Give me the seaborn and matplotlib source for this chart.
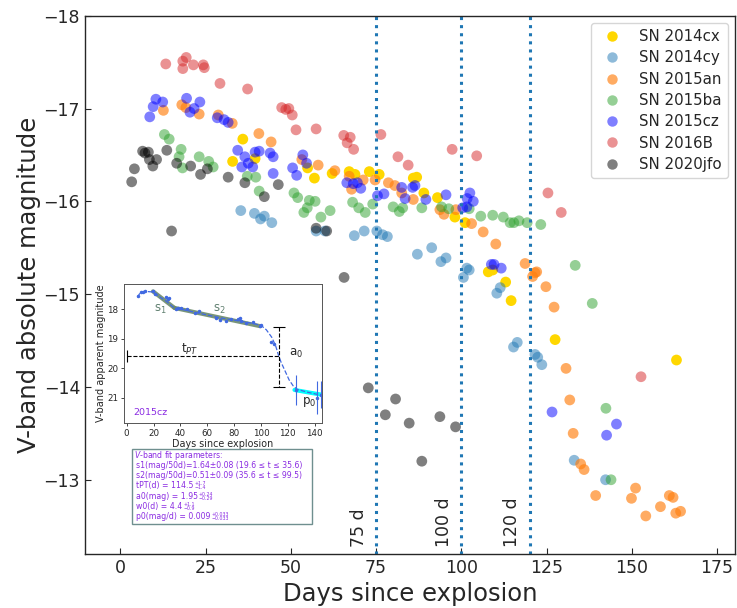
import numpy as np
import pandas as pd
import matplotlib
matplotlib.use('Agg')
import matplotlib.pyplot as plt
import seaborn as sns
from matplotlib.lines import Line2D
from matplotlib.patches import Rectangle

sns.set_style('ticks')
plt.rcParams['font.family'] = ['DejaVu Sans']

# --- light curves (days since explosion, V-band absolute magnitude) ---
sn2014cx_day = [32.9, 35.9, 39.5, 54.9, 56.9, 62.1, 67.1, 68.8, 73.0, 75.9, 85.9, 86.9, 89.0, 93.0,
                98.1, 101.1, 107.9, 109.2, 113.0, 114.6, 127.5, 163.1]
sn2014cx_mag = [-16.43, -16.67, -16.46, -16.36, -16.25, -16.30, -16.32, -16.29, -16.32, -16.29, -16.25,
                -16.26, -16.09, -16.04, -15.83, -15.77, -15.24, -15.26, -15.13, -14.93, -14.51, -14.29]

sn2014cy_day = [35.3, 39.3, 41.1, 42.2, 44.4, 57.4, 60.0, 68.6, 71.5, 75.2, 76.9, 78.3, 87.1, 91.3,
                94.0, 95.5, 100.6, 101.6, 102.3, 110.4, 111.4, 115.3, 116.4, 121.6, 122.4, 123.6, 133.1, 142.3]
sn2014cy_mag = [-15.90, -15.87, -15.81, -15.84, -15.77, -15.68, -15.68, -15.63, -15.68, -15.68, -15.64,
                -15.62, -15.43, -15.50, -15.35, -15.39, -15.18, -15.28, -15.26, -15.01, -15.07, -14.43,
                -14.48, -14.35, -14.32, -14.24, -13.21, -13.00]

sn2015an_day = [12.6, 18.0, 19.2, 23.1, 28.7, 32.8, 40.6, 44.2, 53.2, 58.0, 62.9, 67.1, 67.8, 71.2,
                74.7, 78.6, 80.5, 82.5, 85.9, 93.7, 94.9, 98.4, 103.0, 106.4, 110.1, 118.7, 120.9, 121.6,
                122.1, 124.8, 127.2, 130.7, 131.8, 132.8, 135.0, 136.0, 139.4, 149.9, 151.1, 154.1,
                158.4, 161.0, 162.1, 162.9, 164.3]
sn2015an_mag = [-16.98, -17.04, -17.01, -16.94, -16.93, -16.84, -16.73, -16.64, -16.45, -16.39, -16.33,
                -16.27, -16.13, -16.23, -16.23, -16.20, -16.17, -16.09, -16.02, -15.91, -15.86, -15.91,
                -15.76, -15.67, -15.54, -15.33, -15.19, -15.23, -15.24, -15.08, -14.86, -14.20, -13.86,
                -13.50, -13.17, -13.11, -12.83, -12.80, -12.91, -12.61, -12.71, -12.83, -12.81, -12.64,
                -12.66]

sn2015ba_day = [12.9, 14.3, 17.2, 17.8, 18.2, 23.1, 25.9, 27.2, 37.2, 39.7, 40.7, 50.9, 52.0, 53.8,
                54.8, 55.4, 57.1, 58.8, 61.5, 68.1, 69.9, 71.8, 74.0, 80.0, 81.8, 82.8, 88.4, 94.2,
                96.3, 102.3, 105.7, 109.2, 112.3, 114.3, 115.4, 116.9, 119.3, 123.3, 133.4, 138.4,
                142.4, 143.9]
sn2015ba_mag = [-16.72, -16.67, -16.48, -16.56, -16.36, -16.48, -16.43, -16.37, -16.27, -16.26, -16.11,
                -16.09, -16.04, -15.88, -15.93, -16.01, -16.00, -15.83, -15.90, -15.99, -15.93, -15.88,
                -15.97, -15.94, -15.89, -15.93, -15.93, -15.94, -15.92, -15.92, -15.84, -15.85, -15.83,
                -15.77, -15.77, -15.79, -15.77, -15.75, -15.31, -14.90, -13.77, -13.00]

sn2015cz_day = [8.6, 9.6, 10.4, 12.4, 19.4, 20.4, 21.6, 23.3, 28.4, 30.4, 31.6, 34.4, 35.6, 36.5,
                37.5, 38.8, 39.5, 40.7, 43.9, 44.8, 44.8, 50.5, 51.7, 53.5, 54.6, 66.4, 68.3, 69.5,
                70.5, 75.4, 77.3, 82.5, 83.5, 85.7, 86.4, 89.6, 95.5, 100.4, 101.6, 101.7, 102.5,
                103.5, 108.8, 109.6, 111.7, 126.6, 142.6, 145.5]
sn2015cz_mag = [-16.91, -17.02, -17.10, -17.07, -17.11, -16.96, -17.00, -17.07, -16.90, -16.88, -16.85,
                -16.55, -16.37, -16.48, -16.41, -16.37, -16.53, -16.54, -16.52, -16.48, -16.30, -16.36,
                -16.28, -16.50, -16.41, -16.20, -16.19, -16.20, -16.14, -16.06, -16.08, -16.15, -16.03,
                -16.15, -16.17, -16.02, -16.07, -15.93, -15.94, -16.03, -16.09, -16.00, -15.32, -15.32,
                -15.28, -13.73, -13.48, -13.60]

sn2016B_day = [13.3, 18.3, 18.3, 19.3, 21.4, 24.3, 24.6, 29.2, 37.3, 47.3, 48.5, 49.4, 50.4, 51.5,
               57.4, 65.5, 66.5, 67.4, 68.4, 76.4, 81.4, 84.4, 97.3, 104.5, 125.4, 129.3, 152.7]
sn2016B_mag = [-17.48, -17.51, -17.43, -17.55, -17.47, -17.47, -17.44, -17.27, -17.21, -17.01, -16.99,
               -17.00, -16.93, -16.77, -16.78, -16.71, -16.63, -16.69, -16.56, -16.72, -16.48, -16.39,
               -16.56, -16.49, -16.09, -15.88, -14.11]

sn2020jfo_day = [3.3, 4.1, 6.5, 7.2, 8.2, 8.5, 9.5, 10.6, 13.6, 15.0, 16.5, 20.6, 23.5, 25.5, 31.6,
                 36.5, 42.2, 46.3, 57.4, 60.5, 65.6, 72.7, 77.7, 80.7, 84.7, 88.4, 93.7, 98.3]
sn2020jfo_mag = [-16.21, -16.35, -16.54, -16.52, -16.53, -16.45, -16.38, -16.45, -16.55, -15.68, -16.41,
                 -16.38, -16.29, -16.35, -16.26, -16.20, -16.05, -16.18, -15.71, -15.68, -15.18, -13.99,
                 -13.70, -13.87, -13.61, -13.20, -13.68, -13.57]

sn_names = ['SN 2014cx', 'SN 2014cy', 'SN 2015an', 'SN 2015ba', 'SN 2015cz', 'SN 2016B', 'SN 2020jfo']
sn_days = [sn2014cx_day, sn2014cy_day, sn2015an_day, sn2015ba_day, sn2015cz_day, sn2016B_day, sn2020jfo_day]
sn_mags = [sn2014cx_mag, sn2014cy_mag, sn2015an_mag, sn2015ba_mag, sn2015cz_mag, sn2016B_mag, sn2020jfo_mag]
sn_colors = ['gold', '#1f77b4', '#ff7f0e', '#2ca02c', 'blue', '#d62728', 'black']
sn_alphas = [1.0, 0.5, 0.65, 0.5, 0.5, 0.5, 0.5]

phase_lines = [75, 100, 120]

# --- inset: SN 2015cz apparent V-band light curve and fit ---
cz_day = [8.7, 10.4, 11.9, 13.5, 19.3, 21.0, 29.2, 30.5, 31.2, 36.6, 38.4, 40.8, 44.6, 50.7, 53.7,
          66.8, 69.3, 74.3, 78.0, 82.9, 84.2, 85.4, 89.0, 94.0, 99.0, 100.2, 107.7, 110.1, 126.5,
          141.5, 145.0]
cz_mag = [17.57, 17.42, 17.41, 17.40, 17.38, 17.50, 17.60, 17.66, 17.64, 18.00, 17.97, 17.98, 18.00,
          18.13, 18.08, 18.30, 18.36, 18.42, 18.34, 18.34, 18.30, 18.42, 18.47, 18.45, 18.56, 18.53,
          19.12, 19.20, 20.75, 21.00, 20.90]
cz_err = [0.03] * 28 + [0.50, 0.56, 0.45]

fit_day = [8, 10, 13, 20, 25, 30, 35, 50, 70, 90, 100, 104, 108, 111, 113, 115, 118, 121, 124, 127, 135, 145]
fit_mag = [17.6, 17.45, 17.4, 17.42, 17.6, 17.75, 17.95, 18.1, 18.3, 18.45, 18.55, 18.7, 18.95, 19.25,
           19.55, 19.8, 20.1, 20.4, 20.6, 20.72, 20.82, 20.92]
s1_day, s1_mag = [19.6, 35.6], [17.40, 17.96]
s2_day, s2_mag = [35.6, 99.5], [17.96, 18.58]
p0_day, p0_mag = [125, 145], [20.74, 20.9]
tpt_day, tpt_mag = 113.5, 19.6
a0_top, a0_bot = 18.62, 20.65

# fit parameter box: base text, upper and lower uncertainty
fit_lines = ['$V$-band fit parameters:',
             's1(mag/50d)=1.64\u00b10.08 (19.6 \u2264 t \u2264 35.6)',
             's2(mag/50d)=0.51\u00b10.09 (35.6 \u2264 t \u2264 99.5)',
             'tPT(d) = 114.5',
             'a0(mag) = 1.95',
             'w0(d) = 4.4',
             'p0(mag/d) = 0.009']
fit_up = ['', '', '', '+1.7', '+0.24', '+1.1', '+0.033']
fit_lo = ['', '', '', '\u22121.4', '\u22120.29', '\u22120.9', '\u22120.033']

# --- main figure ---
df = pd.concat([pd.DataFrame({'day': d, 'mag': m, 'SN': n})
                for n, d, m in zip(sn_names, sn_days, sn_mags)], ignore_index=True)

fig = plt.figure(figsize=(7.37, 6.08), dpi=100)
ax = fig.add_axes([0.1153, 0.0888, 0.8826, 0.8854])

for name, color, alpha in zip(sn_names, sn_colors, sn_alphas):
    sns.scatterplot(data=df[df['SN'] == name], x='day', y='mag', color=color, alpha=alpha,
                    s=60, edgecolor='none', linewidth=0, legend=False, ax=ax)

for d in phase_lines:
    ax.axvline(d, color='#1f77b4', ls=':', lw=2.2)
    ax.text(d - 5, -12.28, f'{d} d', rotation=90, ha='center', va='bottom', fontsize=12.5)

ax.set_xlim(-10.4, 180.4)
ax.set_ylim(-12.2, -18)
ax.set_xticks(np.arange(0, 176, 25))
ax.set_yticks(np.arange(-18, -12, 1))
ax.tick_params(direction='in', labelsize=12.5, length=4)
ax.set_xlabel('Days since explosion', fontsize=17.5)
ax.set_ylabel('V-band absolute magnitude', fontsize=17.5, labelpad=2)
for sp in ax.spines.values():
    sp.set_linewidth(1.0)

handles = [Line2D([], [], ls='none', marker='o', ms=7.5, mfc=c, mec='none', alpha=a)
           for c, a in zip(sn_colors, sn_alphas)]
ax.legend(handles, sn_names, loc='upper right', fontsize=10.8, labelspacing=0.42, frameon=True)

# --- inset ---
ax_in = fig.add_axes([124 / 737, 1 - 423 / 608, 198 / 737, 139 / 608])
ax_in.plot(s1_day, s1_mag, color='#6b8a6b', lw=3, alpha=0.9)
ax_in.plot(s2_day, s2_mag, color='#6b8a6b', lw=3, alpha=0.9)
ax_in.plot(p0_day, p0_mag, color='cyan', lw=3)
ax_in.plot(fit_day, fit_mag, color='royalblue', ls='--', lw=0.9)
ax_in.errorbar(cz_day, cz_mag, yerr=cz_err, fmt='.', color='royalblue', ms=3, lw=0.8)
ax_in.plot([0, tpt_day], [tpt_mag, tpt_mag], color='k', ls='--', lw=0.8)
ax_in.plot([0], [tpt_mag], marker='|', ms=9, color='k', mew=0.8)
ax_in.plot([tpt_day, tpt_day], [a0_top, a0_bot], color='k', ls='--', lw=0.8)
ax_in.plot([tpt_day, tpt_day], [a0_top, a0_bot], ls='none', marker='_', ms=9, color='k', mew=0.8)
ax_in.text(24.8, 18.0, 's$_1$', color='#5f7f6f', fontsize=8.5, ha='center', va='center')
ax_in.text(68.8, 18.02, 's$_2$', color='#5f7f6f', fontsize=8.5, ha='center', va='center')
ax_in.text(47, 19.38, 't$_{PT}$', fontsize=8.5, ha='center', va='center')
ax_in.text(126.2, 19.5, 'a$_0$', fontsize=8.5, ha='center', va='center')
ax_in.text(136, 21.16, 'p$_0$', fontsize=8.5, ha='center', va='center')
ax_in.text(5, 21.52, '2015cz', color='blueviolet', fontsize=6.8, ha='left', va='center')
ax_in.set_xlim(-2, 145.5)
ax_in.set_ylim(21.86, 17.15)
ax_in.set_xticks(np.arange(0, 141, 20))
ax_in.set_yticks([18, 19, 20, 21])
ax_in.tick_params(labelsize=6.3, length=2.5, width=0.6, pad=1.5)
ax_in.set_xlabel('Days since explosion', fontsize=6.9, labelpad=1)
ax_in.set_ylabel('V-band apparent magnitude', fontsize=7.0, labelpad=1)
for sp in ax_in.spines.values():
    sp.set_linewidth(0.7)
    sp.set_color('#555555')

# --- fit parameter box ---
fig.add_artist(Rectangle((132 / 737, 1 - 524 / 608), 180 / 737, 75 / 608, transform=fig.transFigure,
                         facecolor='white', edgecolor='#6f8f8f', lw=1))
renderer = fig.canvas.get_renderer()
for i, (base, up, lo) in enumerate(zip(fit_lines, fit_up, fit_lo)):
    x0 = 134 / 737 if i == 0 else 136 / 737
    y0 = 1 - (455 + 10.3 * i) / 608
    t = fig.text(x0, y0, base, fontsize=5.6, color='blueviolet', ha='left', va='center')
    if up:
        bb = t.get_window_extent(renderer)
        fig.text((bb.x1 + 0.8) / 737, y0, up + '\n' + lo, fontsize=3.4, linespacing=0.8,
                 color='blueviolet', ha='left', va='center')

fig.savefig('out.png', dpi=100)
